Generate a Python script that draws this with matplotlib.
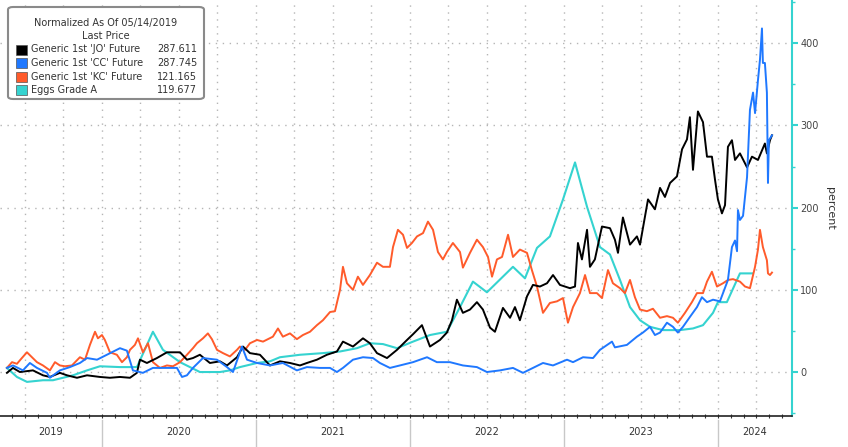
import matplotlib.pyplot as plt
import matplotlib.transforms as mtransforms
from matplotlib.patches import FancyBboxPatch, Rectangle
from matplotlib.ticker import MultipleLocator

# time in decimal years, values in percent (normalized as of 05/14/2019)
jo_t = [2019.383, 2019.422, 2019.467, 2019.552, 2019.617, 2019.662, 2019.727, 2019.773, 2019.838,
        2019.903, 2019.987, 2020.052, 2020.117, 2020.182, 2020.227, 2020.247, 2020.292, 2020.357,
        2020.422, 2020.507, 2020.552, 2020.591, 2020.636, 2020.701, 2020.766, 2020.812, 2020.877,
        2020.916, 2020.961, 2021.026, 2021.091, 2021.156, 2021.221, 2021.286, 2021.331, 2021.396,
        2021.461, 2021.526, 2021.565, 2021.630, 2021.695, 2021.740, 2021.786, 2021.851, 2021.916,
        2021.981, 2022.020, 2022.078, 2022.130, 2022.195, 2022.240, 2022.273, 2022.305, 2022.344,
        2022.390, 2022.435, 2022.474, 2022.520, 2022.552, 2022.604, 2022.650, 2022.682, 2022.714,
        2022.760, 2022.799, 2022.844, 2022.890, 2022.929, 2022.974, 2023.039, 2023.072, 2023.091,
        2023.117, 2023.150, 2023.169, 2023.201, 2023.247, 2023.299, 2023.331, 2023.351, 2023.383,
        2023.429, 2023.474, 2023.494, 2023.546, 2023.591, 2023.624, 2023.656, 2023.689, 2023.734,
        2023.767, 2023.799, 2023.818, 2023.838, 2023.870, 2023.903, 2023.929, 2023.961, 2023.981,
        2024.000, 2024.026, 2024.046, 2024.065, 2024.091, 2024.111, 2024.143, 2024.189, 2024.221,
        2024.260, 2024.305, 2024.318, 2024.338, 2024.351]
jo_v = [-1, 5, 0, 2, -4, -6, -1, -4, -7,
        -4, -6, -7, -6, -7, -1, 15, 11, 17,
        24, 24, 15, 17, 21, 11, 13, 8, 18,
        31, 23, 21, 8, 13, 11, 8, 11, 15,
        21, 25, 37, 31, 41, 35, 23, 17, 27,
        39, 46, 57, 31, 39, 48, 63, 88, 72,
        76, 85, 76, 54, 49, 78, 66, 79, 63,
        92, 106, 104, 108, 118, 106, 102, 104, 157,
        137, 173, 128, 137, 177, 175, 161, 145, 188,
        155, 165, 155, 210, 198, 224, 213, 230, 238,
        271, 283, 310, 246, 317, 304, 262, 262, 234,
        210, 193, 203, 274, 282, 258, 266, 249, 262,
        258, 278, 266, 282, 288]

cc_t = [2019.383, 2019.422, 2019.487, 2019.532, 2019.578, 2019.643, 2019.662, 2019.727, 2019.792,
        2019.857, 2019.903, 2019.968, 2020.032, 2020.117, 2020.162, 2020.201, 2020.266, 2020.331,
        2020.422, 2020.487, 2020.520, 2020.552, 2020.591, 2020.656, 2020.747, 2020.812, 2020.851,
        2020.909, 2020.942, 2021.007, 2021.091, 2021.175, 2021.266, 2021.331, 2021.416, 2021.481,
        2021.526, 2021.565, 2021.630, 2021.695, 2021.760, 2021.805, 2021.870, 2021.935, 2022.020,
        2022.111, 2022.175, 2022.260, 2022.344, 2022.435, 2022.500, 2022.585, 2022.669, 2022.734,
        2022.799, 2022.864, 2022.929, 2023.020, 2023.059, 2023.124, 2023.189, 2023.234, 2023.312,
        2023.331, 2023.409, 2023.474, 2023.513, 2023.559, 2023.591, 2023.624, 2023.669, 2023.708,
        2023.740, 2023.773, 2023.818, 2023.864, 2023.896, 2023.929, 2023.968, 2024.013, 2024.065,
        2024.091, 2024.111, 2024.124, 2024.130, 2024.143, 2024.163, 2024.189, 2024.208, 2024.228,
        2024.241, 2024.260, 2024.273, 2024.286, 2024.292, 2024.305, 2024.318, 2024.325, 2024.331,
        2024.351]
cc_v = [5, 8, 2, 11, 5, -1, -7, 2, 6,
        11, 17, 15, 21, 29, 26, 2, -1, 5,
        5, 5, -6, -4, 5, 17, 15, 6, 0,
        31, 15, 11, 8, 11, 2, 6, 5, 5,
        0, 5, 15, 18, 17, 11, 5, 8, 12,
        18, 12, 12, 8, 6, 0, 2, 5, -1,
        5, 11, 8, 15, 12, 18, 17, 27, 37,
        30, 33, 43, 48, 55, 45, 48, 60, 55,
        48, 55, 67, 79, 91, 85, 88, 86, 112,
        152, 160, 147, 197, 185, 190, 237, 319, 340,
        315, 355, 380, 418, 376, 376, 340, 230, 282,
        288]

kc_t = [2019.383, 2019.416, 2019.448, 2019.480, 2019.513, 2019.545, 2019.578, 2019.617, 2019.662,
        2019.695, 2019.727, 2019.760, 2019.805, 2019.857, 2019.890, 2019.922, 2019.955, 2019.974,
        2020.000, 2020.019, 2020.052, 2020.097, 2020.130, 2020.162, 2020.182, 2020.214, 2020.234,
        2020.266, 2020.299, 2020.331, 2020.377, 2020.422, 2020.461, 2020.507, 2020.552, 2020.591,
        2020.617, 2020.656, 2020.688, 2020.714, 2020.747, 2020.786, 2020.831, 2020.877, 2020.896,
        2020.929, 2020.961, 2021.007, 2021.046, 2021.110, 2021.143, 2021.175, 2021.221, 2021.266,
        2021.305, 2021.351, 2021.396, 2021.435, 2021.481, 2021.513, 2021.546, 2021.565, 2021.591,
        2021.630, 2021.662, 2021.695, 2021.740, 2021.786, 2021.825, 2021.870, 2021.890, 2021.922,
        2021.955, 2021.981, 2022.013, 2022.046, 2022.085, 2022.117, 2022.150, 2022.182, 2022.214,
        2022.240, 2022.279, 2022.325, 2022.344, 2022.390, 2022.435, 2022.474, 2022.507, 2022.533,
        2022.565, 2022.598, 2022.637, 2022.669, 2022.714, 2022.760, 2022.792, 2022.825, 2022.864,
        2022.909, 2022.955, 2022.994, 2023.026, 2023.059, 2023.104, 2023.137, 2023.169, 2023.214,
        2023.247, 2023.286, 2023.318, 2023.364, 2023.396, 2023.429, 2023.461, 2023.494, 2023.539,
        2023.578, 2023.624, 2023.669, 2023.708, 2023.740, 2023.786, 2023.831, 2023.864, 2023.903,
        2023.929, 2023.961, 2023.994, 2024.033, 2024.065, 2024.098, 2024.143, 2024.176, 2024.208,
        2024.241, 2024.260, 2024.273, 2024.292, 2024.318, 2024.325, 2024.338, 2024.351]
kc_v = [5, 12, 10, 17, 24, 18, 12, 8, 2,
        12, 8, 7, 8, 18, 15, 33, 49, 41,
        45, 39, 24, 21, 12, 18, 27, 33, 41,
        24, 35, 12, 5, 8, 7, 12, 21, 29,
        35, 41, 47, 40, 27, 23, 19, 27, 31,
        27, 35, 39, 37, 43, 53, 43, 47, 40,
        45, 49, 57, 63, 73, 74, 100, 128, 108,
        100, 116, 106, 118, 133, 128, 128, 152, 173,
        167, 151, 157, 165, 169, 183, 173, 146, 137,
        146, 157, 146, 127, 145, 161, 152, 140, 116,
        137, 140, 167, 140, 149, 145, 124, 104, 72,
        84, 86, 90, 60, 79, 96, 118, 96, 96,
        90, 124, 108, 102, 96, 112, 91, 76, 74,
        77, 66, 68, 66, 60, 72, 85, 96, 96,
        110, 122, 104, 108, 112, 113, 110, 104, 102,
        128, 149, 173, 152, 136, 120, 118, 121]

egg_t = [2019.383, 2019.448, 2019.513, 2019.617, 2019.682, 2019.812, 2019.903, 2019.987, 2020.117,
         2020.227, 2020.331, 2020.396, 2020.507, 2020.636, 2020.766, 2020.831, 2020.896, 2021.007,
         2021.091, 2021.156, 2021.286, 2021.435, 2021.546, 2021.656, 2021.740, 2021.825, 2021.916,
         2022.020, 2022.130, 2022.240, 2022.325, 2022.409, 2022.500, 2022.669, 2022.747, 2022.825,
         2022.909, 2022.994, 2023.072, 2023.150, 2023.234, 2023.299, 2023.364, 2023.429, 2023.494,
         2023.559, 2023.643, 2023.753, 2023.838, 2023.903, 2023.968, 2024.000, 2024.058, 2024.143,
         2024.221]
egg_v = [5, -6, -12, -10, -10, -4, 2, 7, 6,
         6, 49, 27, 12, 0, 0, 2, 6, 11,
         13, 18, 21, 23, 25, 29, 35, 34, 29,
         37, 45, 49, 79, 110, 97, 128, 114, 151,
         165, 210, 255, 201, 152, 143, 112, 79, 63,
         55, 51, 51, 53, 57, 72, 85, 85, 120,
         120]

names = ["Generic 1st 'JO' Future", "Generic 1st 'CC' Future",
         "Generic 1st 'KC' Future", "Eggs Grade A"]
last_price = ["287.611", "287.745", "121.165", "119.677"]
colors = ["#000000", "#1f78ff", "#ff5b2b", "#35d3d0"]
years = [2019, 2020, 2021, 2022, 2023, 2024]

x_min, x_max = 2019.338, 2024.481

fig = plt.figure(figsize=(8.48, 4.47), dpi=100)
ax = fig.add_axes([0, 31 / 447, 792 / 848, 416 / 447])

# draw order: eggs, coffee, orange juice, cocoa on top
ax.plot(egg_t, egg_v, color=colors[3], lw=1.5)
ax.plot(kc_t, kc_v, color=colors[2], lw=1.4)
ax.plot(jo_t, jo_v, color=colors[0], lw=1.4)
ax.plot(cc_t, cc_v, color=colors[1], lw=1.4)

ax.set_xlim(x_min, x_max)
ax.set_ylim(-53.5, 452.6)

# quarterly grid, monthly ticks
quarters = [y + q / 4 for y in range(2019, 2025) for q in range(4)]
quarters = [q for q in quarters if x_min < q < x_max]
months = [y + m / 12 for y in range(2019, 2025) for m in range(12)]
months = [m for m in months if x_min < m < x_max]
ax.set_xticks(quarters)
ax.set_xticks(months, minor=True)
ax.set_xticklabels([])
ax.tick_params(axis="x", which="both", direction="inout", length=3,
               width=0.8, color="#333333")

ax.yaxis.tick_right()
ax.yaxis.set_label_position("right")
ax.set_yticks([0, 100, 200, 300, 400])
ax.yaxis.set_minor_locator(MultipleLocator(50))
ax.tick_params(axis="y", which="major", direction="out", length=4, width=1.5,
               color="#35d3d0", labelcolor="#444444", labelsize=7, pad=2)
ax.tick_params(axis="y", which="minor", direction="out", length=2, width=1,
               color="#35d3d0")
ax.set_ylabel("percent", rotation=270, labelpad=12, fontsize=8, color="#333333")

ax.grid(True, which="major", linestyle=(0, (1, 4)), color="#b5b5b5", lw=1)

for s in ["left", "top"]:
    ax.spines[s].set_visible(False)
ax.spines["right"].set_color("#35d3d0")
ax.spines["right"].set_linewidth(1.5)
ax.spines["bottom"].set_color("#222222")
ax.spines["bottom"].set_linewidth(1.2)

# year labels and separators under the axis
trans = mtransforms.blended_transform_factory(ax.transData, ax.transAxes)
for y in years:
    lo = max(y, x_min)
    hi = min(y + 1, x_max)
    ax.text((lo + hi) / 2, -0.039, str(y), transform=trans, ha="center",
            va="center", fontsize=7, color="#333333")
    if y > x_min and y != years[0]:
        ax.plot([y, y], [-0.01, -0.08], transform=trans, clip_on=False,
                color="#c8c8c8", lw=1)

# legend box
W, H = 848, 447
box = FancyBboxPatch((8 / W, 1 - 99 / H), 196 / W, 92 / H,
                     boxstyle="round,pad=0,rounding_size=0.006",
                     transform=fig.transFigure, facecolor="white",
                     edgecolor="#8a8a8a", lw=1.5, zorder=10)
fig.patches.append(box)
fig.text(106 / W, 1 - 23 / H, "Normalized As Of 05/14/2019", ha="center",
         va="center", fontsize=7, color="#333333", zorder=11)
fig.text(106 / W, 1 - 36 / H, "Last Price", ha="center", va="center",
         fontsize=7, color="#333333", zorder=11)
rows = [49.5, 63, 76.5, 90]
for name, val, col, ry in zip(names, last_price, colors, rows):
    fig.patches.append(Rectangle((16 / W, 1 - (ry + 5) / H), 11 / W, 10 / H,
                                 transform=fig.transFigure, facecolor=col,
                                 edgecolor="#555555", lw=0.5, zorder=11))
    fig.text(31 / W, 1 - ry / H, name, ha="left", va="center", fontsize=7,
             color="#333333", zorder=11)
    fig.text(197 / W, 1 - ry / H, val, ha="right", va="center", fontsize=7,
             color="#333333", zorder=11)

fig.savefig("out.png", dpi=100)
